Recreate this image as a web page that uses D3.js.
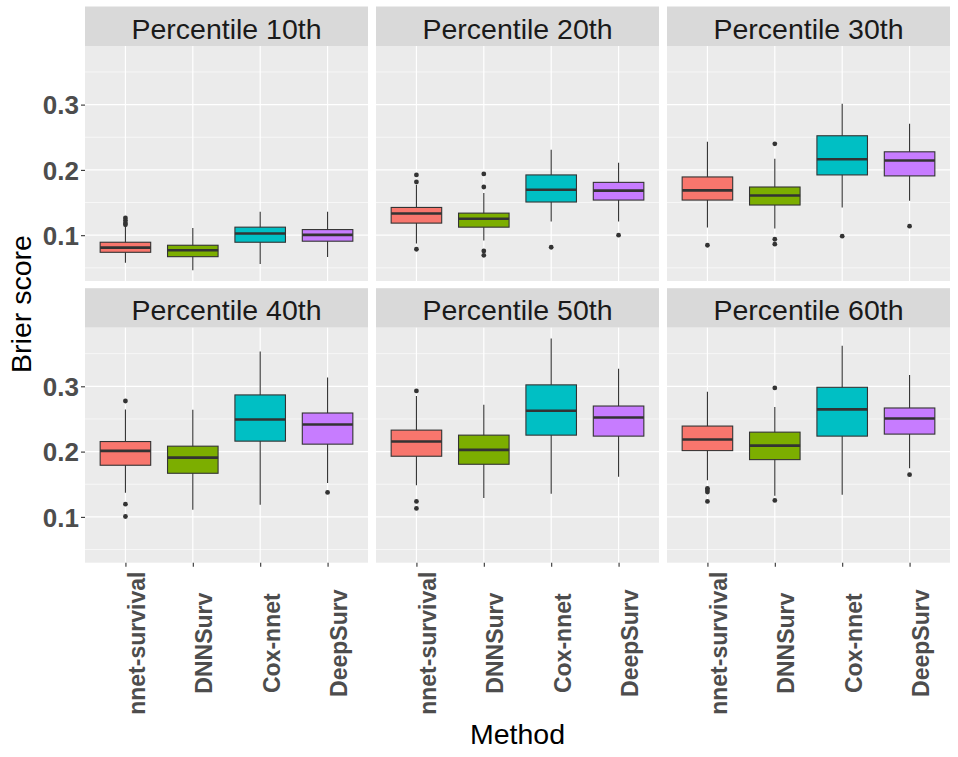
<!DOCTYPE html>
<html>
<head>
<meta charset="utf-8">
<script src="https://cdn.jsdelivr.net/npm/d3@7"></script>
<style>
body { margin: 0; background: #fff; }
text { font-family: "Liberation Sans", Arial, sans-serif; }
</style>
</head>
<body>
<div class="chart"></div>
<script>
const methods = ["nnet-survival", "DNNSurv", "Cox-nnet", "DeepSurv"];
const percentiles = ["Percentile 10th", "Percentile 20th", "Percentile 30th",
                     "Percentile 40th", "Percentile 50th", "Percentile 60th"];
const colors = ["#F8766D", "#7CAE00", "#00BFC4", "#C77CFF"];

// one row per percentile, one value per method
const lowWhisker = [
  [0.0578, 0.0462, 0.0558, 0.0666],
  [0.0871, 0.0917, 0.1209, 0.1209],
  [0.1117, 0.1102, 0.1425, 0.1528],
  [0.1369, 0.1108, 0.1185, 0.1518],
  [0.1483, 0.1288, 0.1354, 0.1615],
  [0.1560, 0.1323, 0.1338, 0.1745]
];
const q1 = [
  [0.0738, 0.0671, 0.0892, 0.0908],
  [0.1185, 0.1123, 0.1508, 0.1538],
  [0.1538, 0.1462, 0.1923, 0.1908],
  [0.1791, 0.1668, 0.2160, 0.2114],
  [0.1929, 0.1806, 0.2252, 0.2237],
  [0.2015, 0.1877, 0.2237, 0.2268]
];
const median = [
  [0.0809, 0.0769, 0.1025, 0.1005],
  [0.1332, 0.1251, 0.1697, 0.1682],
  [0.1686, 0.1609, 0.2163, 0.2143],
  [0.2011, 0.1908, 0.2492, 0.2415],
  [0.2154, 0.2026, 0.2626, 0.2523],
  [0.2185, 0.2092, 0.2646, 0.2508]
];
const q3 = [
  [0.0892, 0.0846, 0.1123, 0.1086],
  [0.1425, 0.1338, 0.1923, 0.1809],
  [0.1892, 0.1738, 0.2523, 0.2277],
  [0.2154, 0.2083, 0.2868, 0.2591],
  [0.2329, 0.2252, 0.3022, 0.2698],
  [0.2391, 0.2298, 0.2985, 0.2668]
];
const highWhisker = [
  [0.1125, 0.1112, 0.1358, 0.1358],
  [0.1769, 0.1646, 0.2308, 0.2108],
  [0.2431, 0.2169, 0.3015, 0.2708],
  [0.2646, 0.2642, 0.3534, 0.3134],
  [0.2852, 0.2718, 0.3734, 0.3268],
  [0.2918, 0.2683, 0.3622, 0.3175]
];
const outliers = [
  [[0.1265, 0.1225, 0.1185, 0.1160], [], [], []],
  [[0.1923, 0.1815, 0.0785], [0.1938, 0.1738, 0.0758, 0.0692], [0.0815], [0.1000]],
  [[0.0846], [0.2400, 0.0938, 0.0862], [0.0985], [0.1138]],
  [[0.2775, 0.1195, 0.1006], [], [], [0.1375]],
  [[0.2929, 0.1237, 0.1129], [], [], []],
  [[0.1437, 0.1410, 0.1380, 0.1237], [0.2975, 0.1252], [], [0.1646]]
];
const yTicks = [0.1, 0.2, 0.3];
const yMinor = [0.05, 0.15, 0.25, 0.35];

const width = 958, height = 757;
const panelW = 283, panelH = 235, stripH = 39.5;
const colX = [85, 376, 667];
const rowY = [46, 327.7];

const svg = d3.select(".chart").append("svg")
    .attr("width", width)
    .attr("height", height);

// shared y range, 5% expansion like ggplot
const allLow = d3.min([...lowWhisker.flat(), ...outliers.flat(2)]);
const allHigh = d3.max([...highWhisker.flat(), ...outliers.flat(2)]);
const pad = (allHigh - allLow) * 0.05;

const xScale = d3.scalePoint()
    .domain(methods)
    .range([0, panelW])
    .padding(0.6);
const boxW = xScale.step() * 0.75;

const yScale = d3.scaleLinear()
    .domain([allLow - pad, allHigh + pad])
    .range([panelH, 0]);

percentiles.forEach((p, i) => {
    const row = Math.floor(i / 3), col = i % 3;
    const g = svg.append("g")
        .attr("transform", `translate(${colX[col]},${rowY[row]})`);

    // strip
    g.append("rect")
        .attr("x", 0).attr("y", -stripH)
        .attr("width", panelW).attr("height", stripH)
        .attr("fill", "#D9D9D9");
    g.append("text")
        .attr("x", panelW / 2).attr("y", -stripH + 32)
        .attr("text-anchor", "middle")
        .attr("font-size", "28.5px")
        .attr("fill", "#1A1A1A")
        .text(p);

    // panel background + grid
    g.append("rect")
        .attr("width", panelW).attr("height", panelH)
        .attr("fill", "#EBEBEB");
    g.selectAll(".minor")
        .data(yMinor)
        .enter().append("line")
        .attr("x1", 0).attr("x2", panelW)
        .attr("y1", d => yScale(d)).attr("y2", d => yScale(d))
        .attr("stroke", "#fff").attr("stroke-width", 0.6);
    g.selectAll(".major")
        .data(yTicks)
        .enter().append("line")
        .attr("x1", 0).attr("x2", panelW)
        .attr("y1", d => yScale(d)).attr("y2", d => yScale(d))
        .attr("stroke", "#fff").attr("stroke-width", 1.2);
    g.selectAll(".vgrid")
        .data(methods)
        .enter().append("line")
        .attr("x1", d => xScale(d)).attr("x2", d => xScale(d))
        .attr("y1", 0).attr("y2", panelH)
        .attr("stroke", "#fff").attr("stroke-width", 1.2);

    // boxes
    methods.forEach((m, j) => {
        const cx = xScale(m);
        const b = g.append("g");
        b.append("line")
            .attr("x1", cx).attr("x2", cx)
            .attr("y1", yScale(highWhisker[i][j])).attr("y2", yScale(lowWhisker[i][j]))
            .attr("stroke", "#333").attr("stroke-width", 1.1);
        b.append("rect")
            .attr("x", cx - boxW / 2).attr("width", boxW)
            .attr("y", yScale(q3[i][j]))
            .attr("height", yScale(q1[i][j]) - yScale(q3[i][j]))
            .attr("fill", colors[j])
            .attr("stroke", "#333").attr("stroke-width", 1.1);
        b.append("line")
            .attr("x1", cx - boxW / 2).attr("x2", cx + boxW / 2)
            .attr("y1", yScale(median[i][j])).attr("y2", yScale(median[i][j]))
            .attr("stroke", "#333").attr("stroke-width", 2.6);
        b.selectAll("circle")
            .data(outliers[i][j])
            .enter().append("circle")
            .attr("cx", cx).attr("cy", d => yScale(d))
            .attr("r", 2.4)
            .attr("fill", "#333");
    });

    // y axis on first column
    if (col === 0) {
        const ya = g.append("g")
            .call(d3.axisLeft(yScale).tickValues(yTicks).tickSize(4).tickPadding(2)
                .tickFormat(d3.format(".1f")));
        ya.select(".domain").remove();
        ya.selectAll("line").attr("stroke", "#333").attr("stroke-width", 1.1);
        ya.selectAll("text")
            .attr("font-size", "26px")
            .attr("font-weight", "bold")
            .attr("fill", "#4D4D4D")
            .attr("dy", "0.36em");
    }

    // x axis on bottom row
    if (row === 1) {
        const xa = g.append("g")
            .attr("transform", `translate(0,${panelH})`)
            .call(d3.axisBottom(xScale).tickSize(4));
        xa.select(".domain").remove();
        xa.selectAll("line").attr("stroke", "#333").attr("stroke-width", 1.1);
        xa.selectAll("text")
            .attr("font-size", "23px")
            .attr("font-weight", "bold")
            .attr("fill", "#4D4D4D")
            .attr("text-anchor", "middle")
            .attr("dy", 0)
            .attr("x", -80.5)
            .attr("y", 19)
            .attr("transform", "rotate(-90)");
    }
});

svg.append("text")
    .attr("x", 517.5).attr("y", 744)
    .attr("text-anchor", "middle")
    .attr("font-size", "28.5px")
    .text("Method");

svg.append("text")
    .attr("transform", "translate(31,304) rotate(-90)")
    .attr("text-anchor", "middle")
    .attr("font-size", "28.5px")
    .text("Brier score");
</script>
</body>
</html>
